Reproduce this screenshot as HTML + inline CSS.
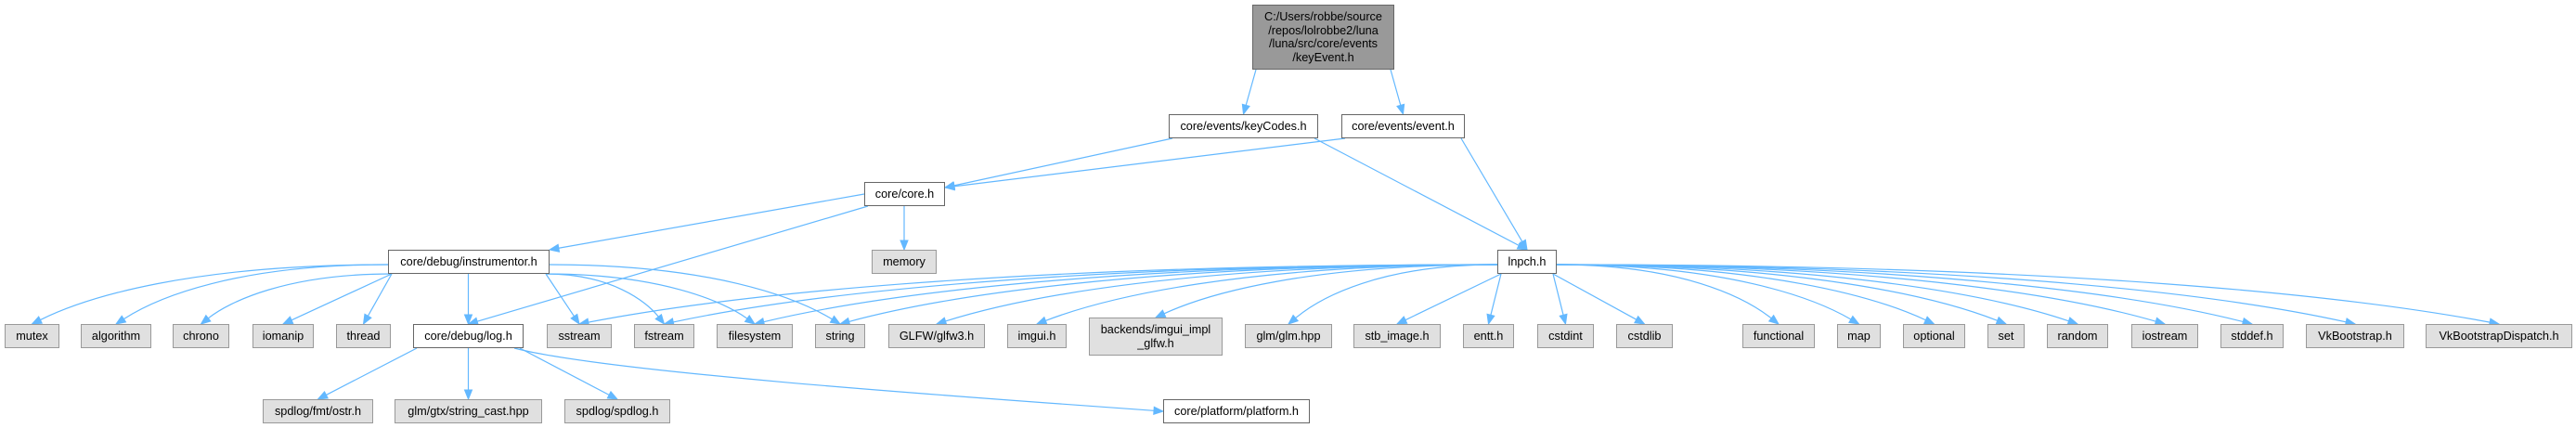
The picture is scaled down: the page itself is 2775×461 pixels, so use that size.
<!DOCTYPE html>
<html><head><meta charset="utf-8"><style>
body{margin:0;width:2775px;height:461px;background:#fff;position:relative;overflow:hidden;font-family:"Liberation Sans",Arial,sans-serif;font-size:12.7px;}
.n{position:absolute;box-sizing:border-box;border:1px solid #666;background:#fff;display:flex;align-items:center;justify-content:center;text-align:center;line-height:14.5px;color:#000;white-space:nowrap;}
.g{background:#e0e0e0;border-color:#999;}
.r{background:#999;border-color:#666;}
svg{position:absolute;left:0;top:0;}
</style></head><body>
<svg id="s" width="2775" height="461"></svg>
<div class="n r" style="left:1349px;top:5px;width:153px;height:70px">C:/Users/robbe/source<br>/repos/lolrobbe2/luna<br>/luna/src/core/events<br>/keyEvent.h</div>
<div class="n" style="left:1259px;top:123px;width:161px;height:26px">core/events/keyCodes.h</div>
<div class="n" style="left:1445px;top:123px;width:133px;height:26px">core/events/event.h</div>
<div class="n" style="left:931px;top:196px;width:87px;height:26px">core/core.h</div>
<div class="n" style="left:418px;top:269px;width:174px;height:26px">core/debug/instrumentor.h</div>
<div class="n g" style="left:939px;top:269px;width:70px;height:26px">memory</div>
<div class="n" style="left:1613px;top:269px;width:64px;height:26px">lnpch.h</div>
<div class="n g" style="left:5px;top:349px;width:59px;height:26px">mutex</div>
<div class="n g" style="left:87px;top:349px;width:76px;height:26px">algorithm</div>
<div class="n g" style="left:186px;top:349px;width:61px;height:26px">chrono</div>
<div class="n g" style="left:272px;top:349px;width:66px;height:26px">iomanip</div>
<div class="n g" style="left:362px;top:349px;width:59px;height:26px">thread</div>
<div class="n" style="left:445px;top:349px;width:119px;height:26px">core/debug/log.h</div>
<div class="n g" style="left:589px;top:349px;width:70px;height:26px">sstream</div>
<div class="n g" style="left:683px;top:349px;width:65px;height:26px">fstream</div>
<div class="n g" style="left:772px;top:349px;width:82px;height:26px">filesystem</div>
<div class="n g" style="left:878px;top:349px;width:54px;height:26px">string</div>
<div class="n g" style="left:957px;top:349px;width:104px;height:26px">GLFW/glfw3.h</div>
<div class="n g" style="left:1085px;top:349px;width:64px;height:26px">imgui.h</div>
<div class="n g" style="left:1173px;top:342px;width:144px;height:41px">backends/imgui_impl<br>_glfw.h</div>
<div class="n g" style="left:1341px;top:349px;width:94px;height:26px">glm/glm.hpp</div>
<div class="n g" style="left:1458px;top:349px;width:94px;height:26px">stb_image.h</div>
<div class="n g" style="left:1576px;top:349px;width:55px;height:26px">entt.h</div>
<div class="n g" style="left:1656px;top:349px;width:61px;height:26px">cstdint</div>
<div class="n g" style="left:1741px;top:349px;width:61px;height:26px">cstdlib</div>
<div class="n g" style="left:1877px;top:349px;width:78px;height:26px">functional</div>
<div class="n g" style="left:1979px;top:349px;width:47px;height:26px">map</div>
<div class="n g" style="left:2050px;top:349px;width:67px;height:26px">optional</div>
<div class="n g" style="left:2141px;top:349px;width:40px;height:26px">set</div>
<div class="n g" style="left:2205px;top:349px;width:66px;height:26px">random</div>
<div class="n g" style="left:2296px;top:349px;width:72px;height:26px">iostream</div>
<div class="n g" style="left:2392px;top:349px;width:68px;height:26px">stddef.h</div>
<div class="n g" style="left:2484px;top:349px;width:106px;height:26px">VkBootstrap.h</div>
<div class="n g" style="left:2613px;top:349px;width:158px;height:26px">VkBootstrapDispatch.h</div>
<div class="n g" style="left:283px;top:430px;width:119px;height:26px">spdlog/fmt/ostr.h</div>
<div class="n g" style="left:425px;top:430px;width:159px;height:26px">glm/gtx/string_cast.hpp</div>
<div class="n g" style="left:608px;top:430px;width:114px;height:26px">spdlog/spdlog.h</div>
<div class="n" style="left:1253px;top:430px;width:158px;height:26px">core/platform/platform.h</div>
<script>
var N={root:[1349,5,153,70],kc:[1259,123,161,26],ev:[1445,123,133,26],core:[931,196,87,26],ins:[418,269,174,26],mem:[939,269,70,26],ln:[1613,269,64,26],
mutex:[5,349,59,26],alg:[87,349,76,26],chr:[186,349,61,26],iom:[272,349,66,26],thr:[362,349,59,26],log:[445,349,119,26],ss:[589,349,70,26],fs:[683,349,65,26],fsys:[772,349,82,26],str:[878,349,54,26],
glfw:[957,349,104,26],imgui:[1085,349,64,26],bk:[1173,342,144,41],glm:[1341,349,94,26],stb:[1458,349,94,26],entt:[1576,349,55,26],cint:[1656,349,61,26],clib:[1741,349,61,26],fn:[1877,349,78,26],map:[1979,349,47,26],opt:[2050,349,67,26],set:[2141,349,40,26],rnd:[2205,349,66,26],ios:[2296,349,72,26],std:[2392,349,68,26],vk:[2484,349,106,26],vkd:[2613,349,158,26],
ostr:[283,430,119,26],sc:[425,430,159,26],spd:[608,430,114,26],plat:[1253,430,158,26]};
var E=[["root","kc"],["root","ev"],["kc","core"],["kc","ln"],["ev","core"],["ev","ln"],["core","ins"],["core","log"],["core","mem"],
["ins","mutex"],["ins","alg"],["ins","chr"],["ins","iom"],["ins","thr"],["ins","log"],["ins","ss"],["ins","fs"],["ins","fsys"],["ins","str"],
["log","ostr"],["log","sc"],["log","spd"],["log","plat"],
["ln","ss"],["ln","fs"],["ln","fsys"],["ln","str"],["ln","glfw"],["ln","imgui"],["ln","bk"],["ln","glm"],["ln","stb"],["ln","entt"],["ln","cint"],["ln","clib"],["ln","fn"],["ln","map"],["ln","opt"],["ln","set"],["ln","rnd"],["ln","ios"],["ln","std"],["ln","vk"],["ln","vkd"]];
var h="",C="#63b8ff";
function arrow(tx,ty,c2x,c2y){var vx=tx-c2x,vy=ty-c2y,L=Math.sqrt(vx*vx+vy*vy)||1;vx/=L;vy/=L;
var bx=tx-vx*10,by=ty-vy*10,px=-vy*4,py=vx*4;
h+='<polygon points="'+tx+','+ty+' '+(bx+px)+','+(by+py)+' '+(bx-px)+','+(by-py)+'" fill="'+C+'" stroke="'+C+'"/>';return [bx,by];}
E.forEach(function(e){var a=N[e[0]],b=N[e[1]];
var tx=b[0]+b[2]/2,ty=b[1];
var sy=a[1]+a[3],sx=Math.max(a[0]+4,Math.min(a[0]+a[2]-4,tx));
if(e[0]=="ln"&&e[1]=="plat"){
 var p=arrow(1411,441,1480,437);
 h+='<path d="M1677,284 C1760,310 1835,350 1822,385 C1805,425 1550,435 '+p[0]+','+p[1]+'" fill="none" stroke="'+C+'" stroke-width="1.2"/>';return;}
if(e[1]=="plat"&&e[0]=="log"){tx=b[0];ty=b[1]+b[3]/2;sx=a[0]+a[2]-10;}
if(e[0]=="core"&&e[1]=="ins"){sx=a[0];sy=a[1]+a[3]/2;tx=b[0]+b[2];ty=b[1];}
if((e[0]=="kc"||e[0]=="ev")&&e[1]=="core"){tx=b[0]+b[2];ty=b[1]+6;}
var dx=tx-sx,dy=ty-sy;
if(e[0]=="ln"&&Math.abs(dx)>120){sy=a[1]+a[3]/2+3;sx=dx<0?a[0]:a[0]+a[2];dy=ty-sy;}
if(e[0]=="ins"&&Math.abs(dx)>250){sy=a[1]+a[3]/2+3;sx=dx<0?a[0]:a[0]+a[2];dy=ty-sy;}
var c1x,c1y,c2x,c2y;
if(e[0]=="log"&&e[1]=="plat"){c1x=650;c1y=400;c2x=1000;c2y=425;}
else if(Math.abs(dx)>120&&(e[0]=="ln"||e[0]=="ins")){c1x=sx+dx*0.55;c1y=sy;c2x=tx-dx*0.15;c2y=ty-dy*0.45;}
else{c1x=sx+dx*0.33;c1y=sy+dy*0.33;c2x=sx+dx*0.66;c2y=sy+dy*0.66;}
var p=arrow(tx,ty,c2x,c2y);
h+='<path d="M'+sx+','+sy+' C'+c1x+','+c1y+' '+c2x+','+c2y+' '+p[0]+','+p[1]+'" fill="none" stroke="'+C+'" stroke-width="1.2"/>';
});
document.getElementById("s").innerHTML=h;
</script>
</body></html>
